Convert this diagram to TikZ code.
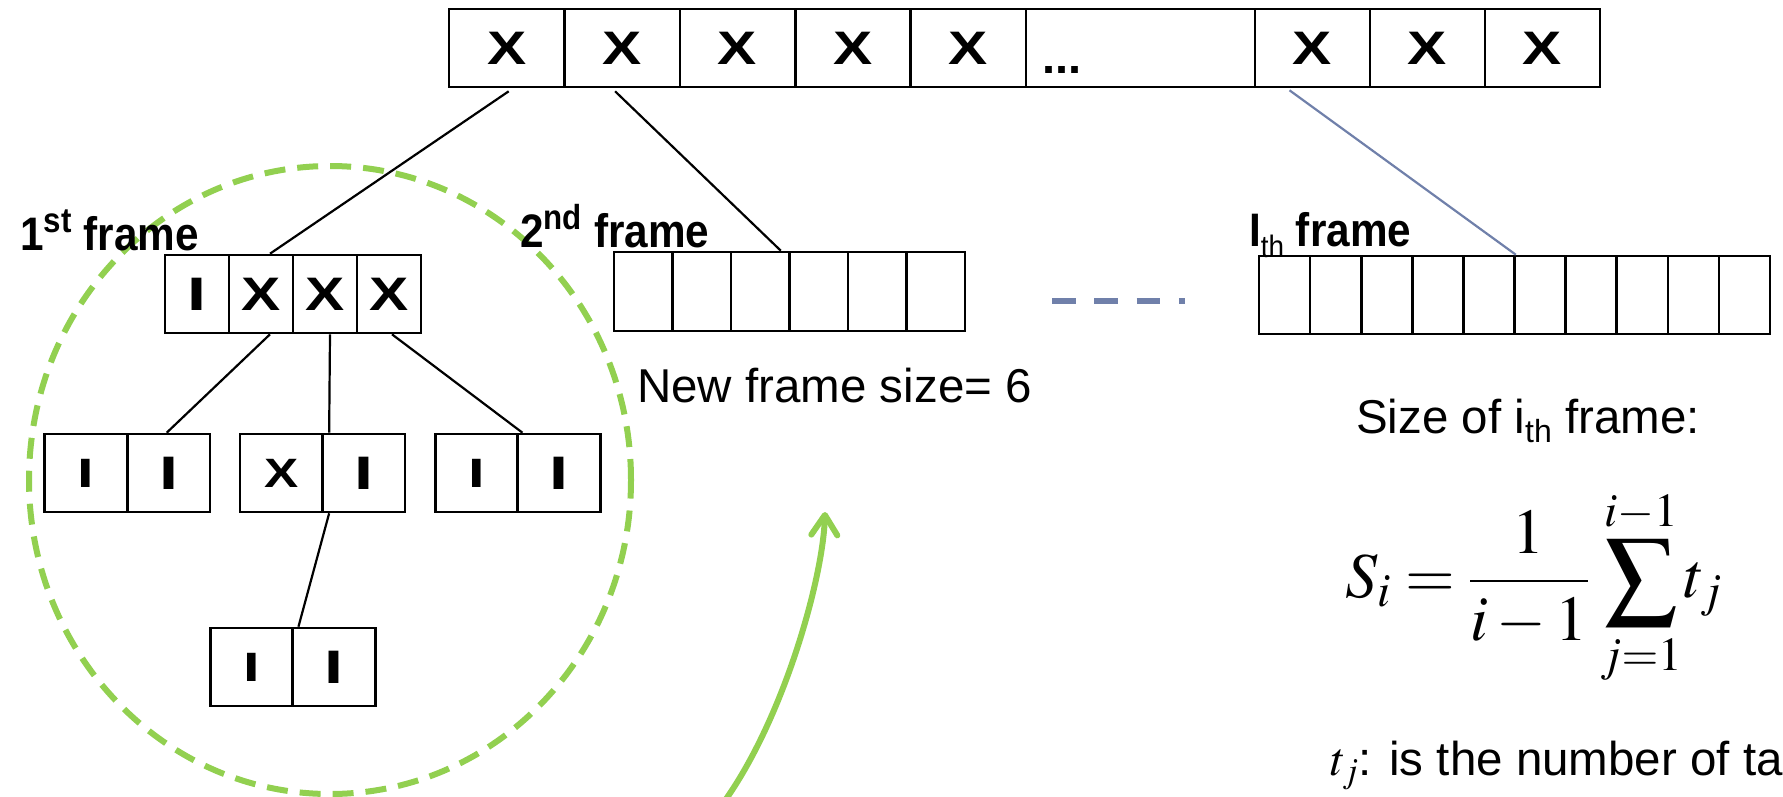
\documentclass[tikz,border=0pt]{standalone}
\usepackage{mathptmx}
\usepackage[no-math]{fontspec}
\setmainfont{Liberation Sans}
\usepackage{graphicx}
\usetikzlibrary{arrows.meta,calc}

\definecolor{lgreen}{HTML}{92D050}
\definecolor{slate}{HTML}{7080AA}

% font helpers (sizes in pt, one pt per picture unit)
\newcommand{\bigbold}{\fontsize{47}{50}\selectfont\bfseries}
\newcommand{\smallbold}{\fontsize{41}{45}\selectfont\bfseries}
\newcommand{\plaintext}{\fontsize{47.5}{52}\selectfont\mdseries}
\newcommand{\mathbig}{\fontsize{64}{70}\selectfont}
\newcommand{\wideX}{\scalebox{1.25}[1]{X}}
\newcommand{\wideI}{\scalebox{1.45}[1]{I}}
\newcommand{\narrowlab}[1]{\scalebox{0.9}[1]{#1}}
\newcommand{\lowth}{\raisebox{-11pt}{\fontsize{31}{33}\selectfont\mdseries th}}

\tikzset{
  cellbox/.style={draw=black, line width=2.6pt, inner sep=0pt, minimum height=78pt, font=\bigbold},
  link/.style={draw=black, line width=2.2pt},
  slatelink/.style={draw=slate, line width=2.2pt},
  framelab/.style={anchor=base west, inner sep=0pt, font=\bigbold},
  plainlab/.style={anchor=base west, inner sep=0pt, font=\plaintext},
  mathpart/.style={inner sep=0pt, font=\mathbig},
}

\begin{document}
\begin{tikzpicture}[x=1pt,y=-1pt]
\useasboundingbox (0,0) rectangle (1783,796);
\clip (0,0) rectangle (1783,796);

% dashed outline around the first frame's tree
\draw[lgreen, line width=6pt, dash pattern=on 21pt off 12pt]
  (330,480) ellipse [x radius=301pt, y radius=314pt];

% ---- top-level array ----
\foreach \n/\x in {1/506.7,2/622.1,3/737.5,4/852.9,5/968.3}
  \node[cellbox, minimum width=115.4pt] (t\n) at (\x,48) {\wideX};
\node[cellbox, minimum width=229pt] (tdots) at (1140.5,48) {};
\node[anchor=base west, inner sep=0pt, font=\bigbold] (tdotstext) at (1042,73) {...};
\foreach \n/\x in {6/1312.5,7/1427.5,8/1542.5}
  \node[cellbox, minimum width=115pt] (t\n) at (\x,48) {\wideX};

% ---- first frame ----
\node[cellbox, minimum width=64pt] (fa) at (197,294) {\wideI};
\node[cellbox, minimum width=64pt] (fb) at (261,294) {\wideX};
\node[cellbox, minimum width=64pt] (fc) at (325,294) {\wideX};
\node[cellbox, minimum width=64pt] (fd) at (389,294) {\wideX};

% second level
\node[cellbox, minimum width=82.5pt, font=\smallbold] (l1) at (86,473) {\wideI};
\node[cellbox, minimum width=82.5pt] (l2) at (168.7,473) {\wideI};
\node[cellbox, minimum width=82.5pt, font=\smallbold] (m1) at (281.2,473) {\wideX};
\node[cellbox, minimum width=82.5pt] (m2) at (363.7,473) {\wideI};
\node[cellbox, minimum width=82.5pt, font=\smallbold] (r1) at (476.5,473) {\wideI};
\node[cellbox, minimum width=82.5pt] (r2) at (559,473) {\wideI};

% third level
\node[cellbox, minimum width=82.5pt, font=\smallbold] (b1) at (251.5,667) {\wideI};
\node[cellbox, minimum width=82.5pt] (b2) at (334,667) {\wideI};

% ---- second frame ----
\foreach \k in {0,...,5}{
  \pgfmathsetmacro\cx{614+29.25+\k*58.5}
  \node[cellbox, minimum width=58.5pt, minimum height=79pt] (s\k) at (\cx,291.5) {};
}

% ---- i-th frame ----
\foreach \k in {0,...,9}{
  \pgfmathsetmacro\cx{1259+25.55+\k*51.1}
  \node[cellbox, minimum width=51.1pt] (i\k) at (\cx,295) {};
}

% ---- labels ----
\node[framelab] (lab1) at (20,250) {\narrowlab{1\textsuperscript{st} frame}};
\node[framelab] (lab2) at (520,247) {\narrowlab{2\textsuperscript{nd} frame}};
\node[framelab] (labi) at (1249,246) {\narrowlab{I\lowth{} frame}};
\node[plainlab] (newsize) at (637,402) {New frame size= 6};
\node[plainlab] (sizelab) at (1356,433) {Size of i\raisebox{-9pt}{\fontsize{32}{34}\selectfont th} frame:};

% ---- frame size formula, set piece by piece ----
\node[mathpart, anchor=base west] (fracpart) at (1345,597) {$\displaystyle S_i=\frac{1}{i-1}$};
\node[mathpart] (sigma) at (1641,583) {\scalebox{1.12}[1.1]{$\displaystyle\sum$}};
\node[mathpart, anchor=base] (suplim) at (1641,526) {$\scriptstyle i-1$};
\node[mathpart, anchor=base] (sublim) at (1641,670) {$\scriptstyle j=1$};
\node[mathpart, anchor=base west] (tterm) at (1684,597) {$t_j$};

\node[plainlab] (tjlab) at (1330,775) {$t_j$: is the number of ta};

% ---- connectors from the top array ----
\draw[link] ($(t1.south)+(2,3)$) -- ($(fb.north)+(9,0)$);
\draw[link] ($(t2.south)+(-7,3)$) -- ($(s2.north east)+(-10,0)$);
\draw[slatelink] ($(t6.south)+(-23,2)$) -- (i4.north east);

% ---- tree connectors ----
\draw[link] ($(fb.south)+(9,0)$) -- ($(l2.north)+(-2,0)$);
\draw[link] ($(fc.south)+(5,0)$) -- ($(m2.north west)+(8,0)$);
\draw[link] ($(fd.south)+(3,0)$) -- ($(r2.north west)+(6,0)$);
\draw[link] ($(m2.south west)+(8,0)$) -- ($(b2.north west)+(7,0)$);

% ---- gap between frames ----
\coordinate (gapL) at (1052,301);
\coordinate (gapR) at (1185,301);
\draw[slate, line width=6pt, dash pattern=on 23.6pt off 18.7pt] (gapL) -- (gapR);

% ---- green arrow ----
\coordinate (arrowfoot) at (721,806);
\coordinate (arrowtip) at (825,512);
\draw[lgreen, line width=6pt, line cap=round,
      -{Straight Barb[length=20pt, width=26pt, round]}]
  (arrowfoot) .. controls (782,724) and (823,580) .. (arrowtip);
\end{tikzpicture}
\end{document}
